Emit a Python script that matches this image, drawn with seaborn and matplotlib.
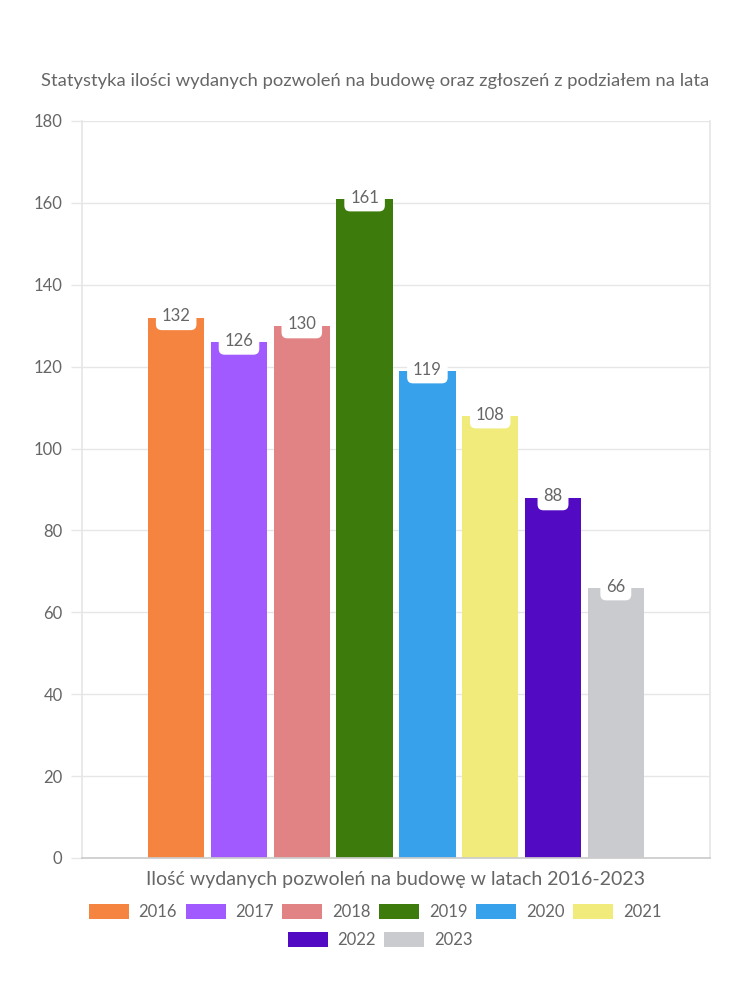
import matplotlib
matplotlib.use("Agg")
import matplotlib.pyplot as plt
from matplotlib.patches import Patch
import seaborn as sns
import pandas as pd

years = ["2016", "2017", "2018", "2019", "2020", "2021", "2022", "2023"]
values = [132, 126, 130, 161, 119, 108, 88, 66]
colors = ["#F58441", "#A05AFF", "#E18385", "#3D7B0D", "#37A2EB", "#F0EB7B", "#520AC2", "#C9CBCF"]
title = "Statystyka ilości wydanych pozwoleń na budowę oraz zgłoszeń z podziałem na lata"
xlabel = "Ilość wydanych pozwoleń na budowę w latach 2016-2023"
yticks = [0, 20, 40, 60, 80, 100, 120, 140, 160, 180]

df = pd.DataFrame({"cat": [""] * len(years), "year": years, "value": values})

sns.set_theme(style="white")
plt.rcParams["font.family"] = ["Lato", "DejaVu Sans"]
TXT = "#666666"

fig = plt.figure(figsize=(7.5, 10), dpi=100)
ax = fig.add_axes([0.1093, 0.142, 0.8374, 0.737])

sns.barplot(data=df, x="cat", y="value", hue="year", hue_order=years,
            palette=colors, saturation=1, gap=0.1, legend=False, ax=ax,
            edgecolor="none", linewidth=0)

ax.set_ylim(0, 180)
ax.set_xlim(-0.5, 0.5)
ax.set_yticks(yticks)
ax.set_yticklabels([str(t) for t in yticks], fontsize=12, color=TXT)
ax.set_xticks([])
ax.set_ylabel("")
ax.set_xlabel(xlabel, fontsize=14, color=TXT, labelpad=9)
ax.yaxis.grid(True, color="#e6e6e6", linewidth=1)
ax.set_axisbelow(True)
ax.tick_params(axis="y", which="major", left=True, length=8, width=1,
               color="#e6e6e6", pad=6)
for side in ["left", "right"]:
    ax.spines[side].set_color("#e6e6e6")
ax.spines["bottom"].set_color("#cccccc")
ax.spines["top"].set_visible(False)

for p in ax.patches:
    h = p.get_height()
    if h <= 0:
        continue
    ax.text(p.get_x() + p.get_width() / 2, h + 0.3, f"{int(round(h))}",
            ha="center", va="center", fontsize=12, color=TXT,
            bbox=dict(boxstyle="round,pad=0.35", fc="white", ec="none"))

fig.text(0.5, 0.919, title, ha="center", va="center", fontsize=13.2, color=TXT)

handles = [Patch(facecolor=c, edgecolor="none") for c in colors]
fig.legend(handles[:6], years[:6], loc="center", bbox_to_anchor=(0.5, 0.088),
           ncol=6, frameon=False, fontsize=12, handlelength=2.4,
           handleheight=1.0, handletextpad=0.6, columnspacing=0.5,
           labelcolor=TXT)
fig.legend(handles[6:], years[6:], loc="center", bbox_to_anchor=(0.507, 0.060),
           ncol=2, frameon=False, fontsize=12, handlelength=2.4,
           handleheight=1.0, handletextpad=0.6, columnspacing=0.5,
           labelcolor=TXT)

fig.savefig("out.png", dpi=100, facecolor="white")
